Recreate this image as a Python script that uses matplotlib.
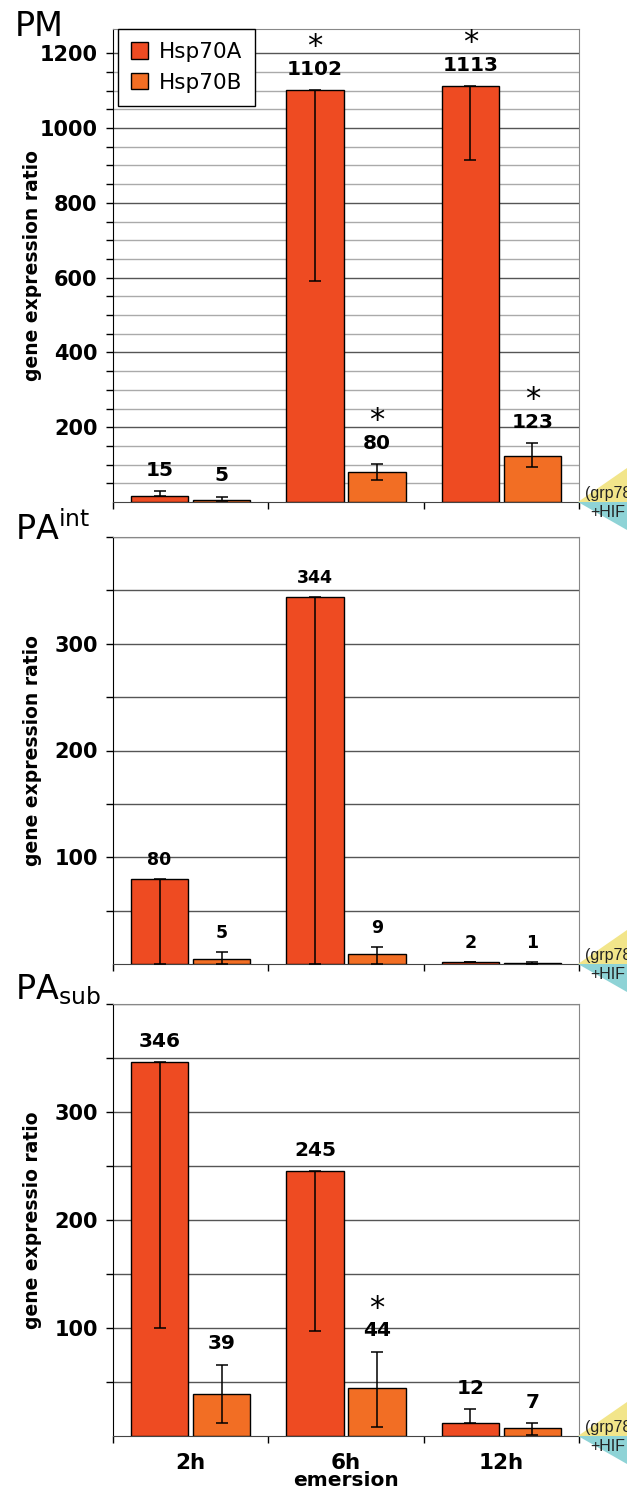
import numpy as np
import matplotlib
matplotlib.use("Agg")
import matplotlib.pyplot as plt
from matplotlib.patches import Polygon

plt.rcParams['font.family'] = ['DejaVu Sans']

# Sampling times after emersion
times = ["2h", "6h", "12h"]
series = ["Hsp70A", "Hsp70B"]

# PM panel
pm_a = [15, 1102, 1113]
pm_a_lo = [0, 511, 198]
pm_a_hi = [15, 0, 0]
pm_a_star = [False, True, True]
pm_b = [5, 80, 123]
pm_b_lo = [3, 20, 30]
pm_b_hi = [9, 22, 35]
pm_b_star = [False, True, True]

# PA int panel
int_a = [80, 344, 2]
int_a_lo = [80, 344, 0]
int_a_hi = [0, 0, 0]
int_a_star = [False, False, False]
int_b = [5, 9, 1]
int_b_lo = [5, 9, 1]
int_b_hi = [6, 7, 1]
int_b_star = [False, False, False]

# PA sub panel
sub_a = [346, 245, 12]
sub_a_lo = [246, 148, 0]
sub_a_hi = [0, 0, 13]
sub_a_star = [False, False, False]
sub_b = [39, 44, 7]
sub_b_lo = [27, 36, 6]
sub_b_hi = [27, 34, 5]
sub_b_star = [False, True, False]

col_a = "#EE4B22"
col_b = "#F26E24"
W, H = 627, 1492

fig = plt.figure(figsize=(W / 100, H / 100), dpi=100)


def px_axes(left, top, right, bottom):
    return fig.add_axes([left / W, 1 - bottom / H, (right - left) / W, (bottom - top) / H])


def draw_panel(ax, a, a_lo, a_hi, a_star, b, b_lo, b_hi, b_star, ymax, ytop, major, step,
               grid_minor, grid_major, lab_size, lab_off):
    x = np.arange(len(times))
    ax.bar(x - 0.2, a, width=0.37, color=col_a, edgecolor="black", linewidth=1, zorder=3, label=series[0])
    ax.bar(x + 0.2, b, width=0.37, color=col_b, edgecolor="black", linewidth=1, zorder=3, label=series[1])
    for off, vals, lo, hi, star in [(-0.2, a, a_lo, a_hi, a_star), (0.2, b, b_lo, b_hi, b_star)]:
        ax.errorbar(x + off, vals, yerr=[lo, hi], fmt="none", ecolor="black", elinewidth=1.1,
                    capsize=4.5, capthick=1.1, zorder=4)
        for xi, v, h, s in zip(x + off, vals, hi, star):
            ax.annotate(str(v), (xi, v + h), xytext=(0, lab_off), textcoords="offset points",
                        ha="center", va="baseline", fontsize=lab_size, fontweight="bold", zorder=5)
            if s:
                ax.annotate("*", (xi, v + h), xytext=(0, lab_off + 14), textcoords="offset points",
                            ha="center", va="baseline", fontsize=22, zorder=5)

    ax.set_xlim(-0.5, 2.5)
    ax.set_ylim(0, ymax)
    minor = np.arange(step, ytop + 1, step)
    ax.set_yticks(major)
    ax.set_yticklabels([str(m) for m in major])
    ax.set_yticks(minor, minor=True)
    ax.tick_params(axis="y", which="both", direction="out", length=5, width=1, labelsize=15, pad=6)
    for lab in ax.get_yticklabels():
        lab.set_fontweight("bold")
    for m in minor:
        c = grid_major if m in major else grid_minor
        ax.axhline(m, color=c, lw=1, zorder=1)

    ax.set_xticks([-0.5, 0.5, 1.5, 2.5], minor=True)
    ax.set_xticks([0, 1, 2])
    ax.set_xticklabels([])
    ax.tick_params(axis="x", which="major", length=0)
    ax.tick_params(axis="x", which="minor", direction="out", length=5, width=1)

    ax.spines["left"].set_color("black")
    ax.spines["bottom"].set_color("#444444")
    ax.spines["top"].set_color("#888888")
    ax.spines["right"].set_color("#888888")


def side_flag(y_axis_bottom):
    # fragment of the neighbouring figure at the right margin
    tri_y = Polygon([(578 / W, 1 - y_axis_bottom / H), (1.0, 1 - (y_axis_bottom - 34) / H),
                     (1.0, 1 - y_axis_bottom / H)], closed=True, transform=fig.transFigure,
                    facecolor="#F2E58A", edgecolor="none")
    tri_c = Polygon([(578 / W, 1 - y_axis_bottom / H), (1.0, 1 - y_axis_bottom / H),
                     (1.0, 1 - (y_axis_bottom + 28) / H)], closed=True, transform=fig.transFigure,
                    facecolor="#8ED3D6", edgecolor="none")
    fig.add_artist(tri_y)
    fig.add_artist(tri_c)
    fig.text(585 / W, 1 - (y_axis_bottom - 4) / H, "(grp78", fontsize=11.5, color="#222222",
             family="Liberation Sans", va="baseline")
    fig.text(590 / W, 1 - (y_axis_bottom + 15) / H, "+HIF", fontsize=11.5, color="#222222",
             family="Liberation Sans", va="baseline")


ax1 = px_axes(113, 29, 579, 502)
ax2 = px_axes(113, 537, 579, 964)
ax3 = px_axes(113, 1004, 579, 1436)

draw_panel(ax1, pm_a, pm_a_lo, pm_a_hi, pm_a_star, pm_b, pm_b_lo, pm_b_hi, pm_b_star,
           1265, 1200, [200, 400, 600, 800, 1000, 1200], 50, "#AAAAAA", "#555555", 14.5, 11)
draw_panel(ax2, int_a, int_a_lo, int_a_hi, int_a_star, int_b, int_b_lo, int_b_hi, int_b_star,
           400, 400, [100, 200, 300], 50, "#555555", "#555555", 12.5, 10)
draw_panel(ax3, sub_a, sub_a_lo, sub_a_hi, sub_a_star, sub_b, sub_b_lo, sub_b_hi, sub_b_star,
           400, 400, [100, 200, 300], 50, "#555555", "#555555", 14.5, 11)

ax1.legend(loc="upper left", bbox_to_anchor=(0.011, 1.0), fontsize=15.5, frameon=True,
           fancybox=False, edgecolor="black", framealpha=1, handlelength=0.8, handleheight=0.8,
           handletextpad=0.5, borderpad=0.6, labelspacing=0.5, borderaxespad=0)

for ax, lab in [(ax1, "gene expression ratio"), (ax2, "gene expression ratio"),
                (ax3, "gene expressio ratio")]:
    ax.set_ylabel(lab, fontsize=13.5, fontweight="bold")
    ax.yaxis.set_label_coords(-0.152, 0.5)

ax3.set_xticklabels(times, fontsize=15.5, fontweight="bold")
ax3.tick_params(axis="x", which="major", pad=12)
ax3.set_xlabel("emersion", fontsize=14.5, fontweight="bold", labelpad=-1)

fig.text(15 / W, 1 - 36 / H, "PM", fontsize=24, va="baseline")
fig.text(15 / W, 1 - 540 / H, r"$\mathregular{PA^{int}}$", fontsize=24, va="baseline")
fig.text(15 / W, 1 - 999 / H, r"$\mathregular{PA_{sub}}$", fontsize=24, va="baseline")

for yb in [502, 964, 1436]:
    side_flag(yb)

fig.savefig("out.png", dpi=100)
